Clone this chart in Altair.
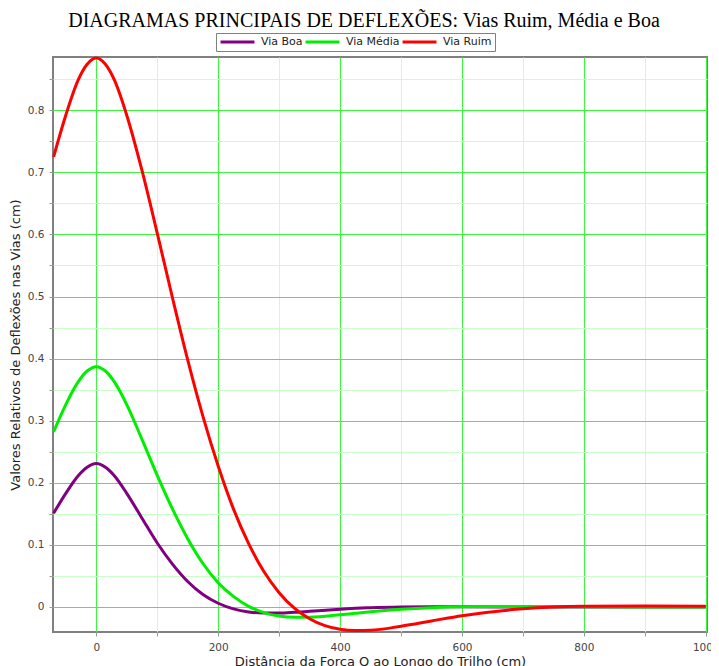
import altair as alt
import pandas as pd

# Distance of the force Q along the rail (cm)
x_cm = [-70, -50, -30, -15, 0, 15, 30, 50, 75, 100, 125, 150, 175, 200, 225,
        250, 275, 300, 325, 350, 400, 425, 450, 500, 550, 600, 700, 800, 900, 1000]

via_boa = [0.151, 0.183, 0.211, 0.225, 0.231, 0.225, 0.211, 0.183, 0.143, 0.103,
           0.069, 0.041, 0.020, 0.006, -0.003, -0.008, -0.0098, -0.0098, -0.0086,
           -0.0069, -0.0036, -0.0022, -0.0012, 0.0, 0.0004, 0.0004, 0.0001, 0.0, 0.0, 0.0]

via_media = [0.282, 0.326, 0.362, 0.380, 0.387, 0.380, 0.362, 0.326, 0.270, 0.212,
             0.158, 0.110, 0.070, 0.039, 0.017, 0.001, -0.009, -0.0145, -0.0165,
             -0.0165, -0.0127, -0.0102, -0.0078, -0.0037, -0.0011, 0.0002, 0.0007,
             0.0003, 0.0, 0.0]

via_ruim = [0.725, 0.792, 0.848, 0.874, 0.884, 0.874, 0.848, 0.792, 0.703, 0.602,
            0.498, 0.398, 0.307, 0.227, 0.158, 0.102, 0.057, 0.023, -0.002, -0.019,
            -0.036, -0.038, -0.0375, -0.031, -0.0225, -0.014, -0.003, 0.001, 0.0015, 0.001]

series = ["Via Boa", "Via Média", "Via Ruim"]
colors = ["#800080", "#00ee00", "#ff0000"]

x_tick_values = [0, 100, 200, 300, 400, 500, 600, 700, 800, 900, 1000]
y_tick_values = [0, 0.05, 0.1, 0.15, 0.2, 0.25, 0.3, 0.35, 0.4, 0.45, 0.5,
                 0.55, 0.6, 0.65, 0.7, 0.75, 0.8, 0.85]

rows = []
for name, vals in zip(series, [via_boa, via_media, via_ruim]):
    for xv, yv in zip(x_cm, vals):
        rows.append({"x": xv, "y": yv, "via": name})
df = pd.DataFrame(rows)

MAJOR = "#3cf53c"
MINOR = "#c8ffc8"

x_axis = alt.Axis(
    values=x_tick_values,
    title="Distância da Força Q ao Longo do Trilho (cm)",
    labelExpr="datum.value % 200 === 0 ? datum.label : ''",
    labelOverlap=False,
    format="d",
    gridColor={"condition": {"test": "datum.value % 200 === 0", "value": MAJOR}, "value": MINOR},
    tickSize=4,
    labelPadding=6,
    titlePadding=3,
)
y_axis = alt.Axis(
    values=y_tick_values,
    title="Valores Relativos de Deflexões nas Vias (cm)",
    labelExpr="round(datum.value * 100) % 10 === 0 ? datum.label : ''",
    labelOverlap=False,
    format=".1~f",
    gridColor={"condition": {"test": "round(datum.value * 100) % 10 === 0", "value": MAJOR}, "value": MINOR},
    tickSize=4,
    labelPadding=5,
    titlePadding=5,
)

xscale = alt.Scale(domain=[-71, 1002], nice=False, zero=False)
yscale = alt.Scale(domain=[-0.0403, 0.8857], nice=False, zero=False)

color = alt.Color(
    "via:N",
    scale=alt.Scale(domain=series, range=colors),
    legend=alt.Legend(
        title=None,
        orient="none",
        legendX=163,
        legendY=-24,
        direction="horizontal",
        symbolType="stroke",
        symbolSize=1150,
        symbolStrokeWidth=3,
        clipHeight=12,
        labelFont="DejaVu Sans",
        labelFontSize=11,
        labelColor="#222222",
        labelOffset=5,
        columnPadding=1,
        padding=3,
        strokeColor="#808080",
        fillColor="white",
    ),
)

base = alt.Chart(df)
layers = []
for s in series:
    layers.append(
        base.transform_filter(alt.datum.via == s)
        .mark_line(interpolate="monotone", strokeWidth=3)
        .encode(
            x=alt.X("x:Q", scale=xscale, axis=x_axis),
            y=alt.Y("y:Q", scale=yscale, axis=y_axis),
            color=color,
        )
    )

chart = (
    alt.layer(*layers)
    .properties(
        width=654,
        height=575,
        autosize="none",
        padding={"left": 45, "top": 49, "right": 4, "bottom": 40},
        title=alt.TitleParams(
            text="DIAGRAMAS PRINCIPAIS DE DEFLEXÕES: Vias Ruim, Média e Boa",
            font="Liberation Serif",
            fontSize=20,
            fontWeight="normal",
            color="black",
            anchor="middle",
            dx=-16,
            offset=2,
        ),
    )
    .configure_view(stroke="#808080", strokeWidth=2)
    .configure_axis(
        domain=False,
        labelFont="DejaVu Sans",
        labelFontSize=10.5,
        labelColor="#444444",
        titleFont="DejaVu Sans",
        titleFontSize=13,
        titleFontWeight="normal",
        titleColor="#222222",
        tickColor="#999999",
        gridWidth=1,
    )
)

chart.save("out.html", embed_options={"renderer": "svg", "actions": False})
